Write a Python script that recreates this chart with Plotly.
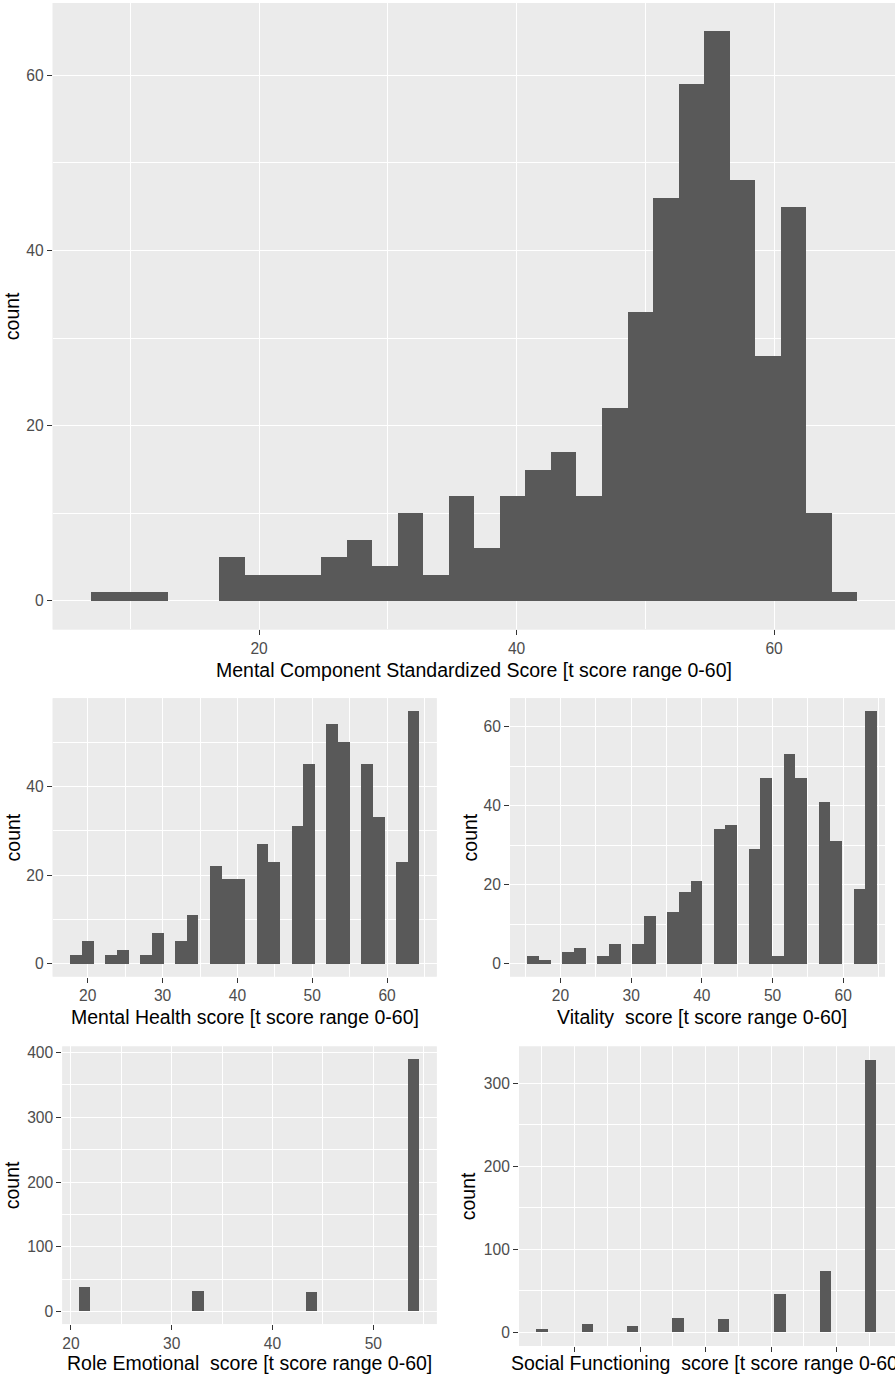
import plotly.graph_objects as go

# ---------------- data ----------------
# Mental Component Standardized Score (30 bins)
mcs_left_edge = 6.95
mcs_bin_width = 1.983
mcs_counts = [1, 1, 1, 0, 0, 5, 3, 3, 3, 5, 7, 4, 10, 3, 12, 6, 12, 15, 17, 12,
              22, 33, 46, 59, 65, 48, 28, 45, 10, 1]

# Mental Health score (30 bins)
mh_left_edge = 17.64
mh_bin_width = 1.555
mh_counts = [2, 5, 0, 2, 3, 0, 2, 7, 0, 5, 11, 0, 22, 19, 19, 0, 27, 23, 0, 31,
             45, 0, 54, 50, 0, 45, 33, 0, 23, 57]

# Vitality score (30 bins)
vt_left_edge = 15.34
vt_bin_width = 1.647
vt_counts = [2, 1, 0, 3, 4, 0, 2, 5, 0, 5, 12, 0, 13, 18, 21, 0, 34, 35, 0, 29,
             47, 2, 53, 47, 0, 41, 31, 0, 19, 64]

# Role Emotional score (30 bins)
re_left_edge = 20.83
re_bin_width = 1.1255
re_counts = [37, 0, 0, 0, 0, 0, 0, 0, 0, 0, 31, 0, 0, 0, 0, 0, 0, 0, 0, 0,
             30, 0, 0, 0, 0, 0, 0, 0, 0, 390]

# Social Functioning score (30 bins)
sf_left_edge = 14.135
sf_bin_width = 1.73
sf_counts = [4, 0, 0, 0, 10, 0, 0, 0, 7, 0, 0, 0, 17, 0, 0, 0, 15, 0, 0, 0,
             0, 46, 0, 0, 0, 73, 0, 0, 0, 328]

titles = {
    "mcs": "Mental Component Standardized Score [t score range 0-60]",
    "mh": "Mental Health score [t score range 0-60]",
    "vt": "Vitality \u00a0score [t score range 0-60]",
    "re": "Role Emotional \u00a0score [t score range 0-60]",
    "sf": "Social Functioning \u00a0score [t score range 0-60]",
}

# ---------------- style ----------------
W, H = 895, 1375
FONT = "Arial, Liberation Sans, sans-serif"
BAR = "#595959"
PANEL = "#EBEBEB"
TICKF = 15.6
TITLEF = 19.5


def px_x(p):
    return p / W


def px_y(p):
    return 1 - p / H


def centers(left, w, n):
    return [left + (i + 0.5) * w for i in range(n)]


panels = [
    # key, left, width, counts, x-domain px, y-domain px, xrange, yrange, xticks, xminor, yticks, yminor, show xlabels
    ("mcs", mcs_left_edge, mcs_bin_width, mcs_counts, (52.7, 895), (1, 628.3),
     [3.97, 69.39], [-3.25, 68.25], [20, 40, 60], 20, [0, 20, 40, 60], 20, True),
    ("mh", mh_left_edge, mh_bin_width, mh_counts, (52.7, 436.7), (697.3, 976),
     [15.31, 66.63], [-2.85, 59.85], [20, 30, 40, 50, 60], 10, [0, 20, 40], 20, True),
    ("vt", vt_left_edge, vt_bin_width, vt_counts, (510, 885), (697.3, 976),
     [12.87, 65.9], [-3.2, 67.2], [20, 30, 40, 50, 60], 10, [0, 20, 40, 60], 20, True),
    ("re", re_left_edge, re_bin_width, re_counts, (62.3, 436.7), (1046, 1324),
     [19.14, 56.29], [-19.5, 409.5], [20, 30, 40, 50], 10, [0, 100, 200, 300, 400], 100, True),
    ("sf", sf_left_edge, sf_bin_width, sf_counts, (519, 895), (1046, 1346),
     [11.5, 68.9], [-16.4, 344.4], [20, 30, 40, 50, 60], 10, [0, 100, 200, 300], 100, False),
]

count_x = {"mcs": 12, "mh": 13, "vt": 470, "re": 12, "sf": 468}
title_y = {"mcs": 669, "mh": 1016, "vt": 1016, "re": 1363, "sf": 1363}
title_cx = {"mcs": 473.8, "mh": 244.7, "vt": 702, "re": 249.5, "sf": 706.5}

fig = go.Figure()
layout = dict(
    width=W, height=H, margin=dict(l=0, r=0, t=0, b=0),
    paper_bgcolor="white", plot_bgcolor=PANEL, showlegend=False,
    bargap=0, font=dict(family=FONT),
)
shapes = []
annotations = []

for i, (key, left, w, counts, xd, yd, xr, yr, xt, xstep, yt, ystep, showx) in enumerate(panels):
    n = i + 1
    xa = "x" if n == 1 else f"x{n}"
    ya = "y" if n == 1 else f"y{n}"
    fig.add_trace(go.Bar(
        x=centers(left, w, len(counts)), y=counts, width=w,
        marker=dict(color=BAR, line=dict(width=0)),
        xaxis=xa, yaxis=ya, hoverinfo="x+y",
    ))
    xdom = [px_x(xd[0]), px_x(xd[1])]
    ydom = [px_y(yd[1]), px_y(yd[0])]
    shapes.append(dict(type="rect", xref="paper", yref="paper",
                       x0=xdom[0], x1=xdom[1], y0=ydom[0], y1=ydom[1],
                       fillcolor=PANEL, line=dict(width=0), layer="below"))
    common = dict(
        showgrid=True, gridcolor="white", gridwidth=1.4, zeroline=False,
        showline=False, ticks="outside", ticklen=5, tickwidth=1.3,
        tickcolor="#333333", tickfont=dict(family=FONT, size=TICKF, color="#4D4D4D"),
        fixedrange=True,
    )
    layout["xaxis" if n == 1 else f"xaxis{n}"] = dict(
        common, domain=xdom, range=xr, anchor=ya,
        tickmode="array", tickvals=xt,
        ticktext=[str(v) for v in xt] if showx else ["" for v in xt],
        minor=dict(tickmode="linear", tick0=xt[0] - xstep / 2, dtick=xstep,
                   showgrid=True, gridcolor="white", gridwidth=0.7, ticks=""),
    )
    layout["yaxis" if n == 1 else f"yaxis{n}"] = dict(
        common, domain=ydom, range=yr, anchor=xa,
        tickmode="array", tickvals=yt, ticktext=[str(v) for v in yt],
        minor=dict(tickmode="linear", tick0=ystep / 2, dtick=ystep,
                   showgrid=True, gridcolor="white", gridwidth=0.7, ticks=""),
    )
    annotations.append(dict(
        text=titles[key], xref="paper", yref="paper",
        x=px_x(title_cx[key]), y=px_y(title_y[key]), xanchor="center", yanchor="middle",
        showarrow=False, font=dict(family=FONT, size=TITLEF, color="black"),
    ))
    annotations.append(dict(
        text="count", xref="paper", yref="paper", textangle=-90,
        x=px_x(count_x[key]), y=(ydom[0] + ydom[1]) / 2, xanchor="center", yanchor="middle",
        showarrow=False, font=dict(family=FONT, size=TITLEF, color="black"),
    ))

layout["shapes"] = shapes
layout["annotations"] = annotations
fig.update_layout(**layout)
fig.write_html(
    "out.html",
    config={"displayModeBar": False},
    post_script="document.body.style.margin='0';document.body.style.overflow='hidden';",
)
